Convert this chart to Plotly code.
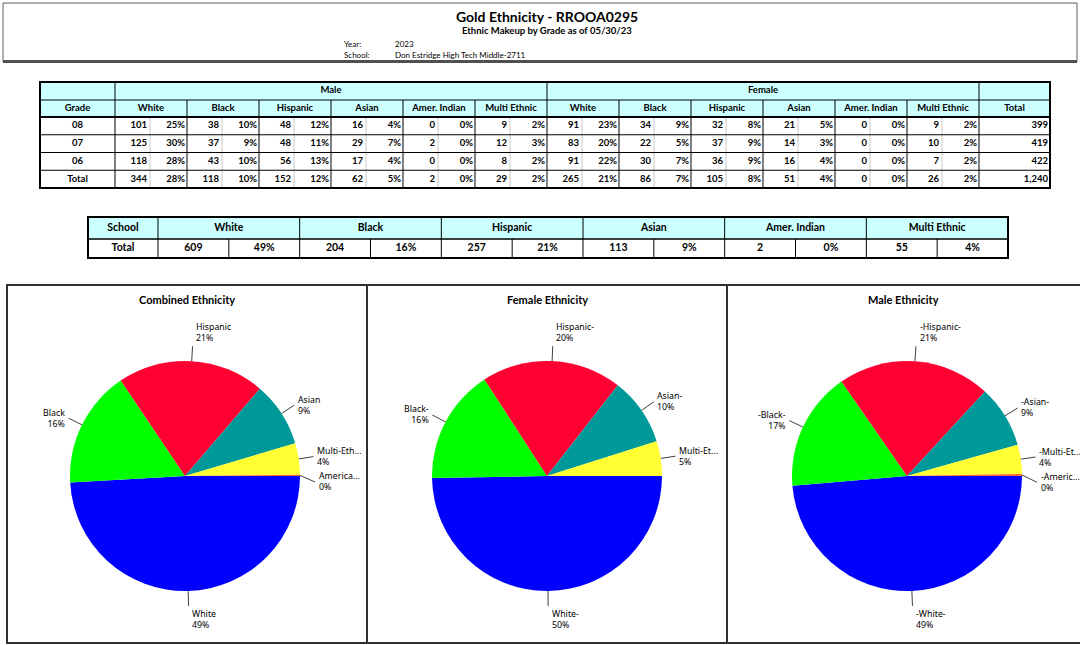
import math
import plotly.graph_objects as go

W, H = 1080, 645

# ---------------- data ----------------
grades = ["08", "07", "06", "Total"]
ethnicities = ["White", "Black", "Hispanic", "Asian", "Amer. Indian", "Multi Ethnic"]
genders = ["Male", "Female"]

male_counts = [[101, 38, 48, 16, 0, 9],
               [125, 37, 48, 29, 2, 12],
               [118, 43, 56, 17, 0, 8],
               [344, 118, 152, 62, 2, 29]]
male_pcts = [[25, 10, 12, 4, 0, 2],
             [30, 9, 11, 7, 0, 3],
             [28, 10, 13, 4, 0, 2],
             [28, 10, 12, 5, 0, 2]]
female_counts = [[91, 34, 32, 21, 0, 9],
                 [83, 22, 37, 14, 0, 10],
                 [91, 30, 36, 16, 0, 7],
                 [265, 86, 105, 51, 0, 26]]
female_pcts = [[23, 9, 8, 5, 0, 2],
               [20, 5, 9, 3, 0, 2],
               [22, 7, 9, 4, 0, 2],
               [21, 7, 8, 4, 0, 2]]
grade_totals = ["399", "419", "422", "1,240"]

school_counts = [609, 204, 257, 113, 2, 55]
school_pcts = [49, 16, 21, 9, 0, 4]

# pie slice order (clockwise from 3 o'clock): White, Black, Hispanic, Asian, Multi, Amer. Indian
pie_order = [0, 1, 2, 3, 5, 4]
pie_colors = ["#0000FF", "#00FF00", "#FF0033", "#009999", "#FFFF33", "#FF6633"]
combined_labels = ["White", "Black", "Hispanic", "Asian", "Multi-Eth...", "America..."]
female_labels = ["White-", "Black-", "Hispanic-", "Asian-", "Multi-Et...", "Americ..."]
male_labels = ["-White-", "-Black-", "-Hispanic-", "-Asian-", "-Multi-Et...", "-Americ..."]
pie_titles = ["Combined Ethnicity", "Female Ethnicity", "Male Ethnicity"]

title_text = "Gold Ethnicity - RROOA0295"
subtitle_text = "Ethnic Makeup by Grade as of 05/30/23"
year_text = "2023"
school_text = "Don Estridge High Tech Middle-2711"

# ---------------- helpers ----------------
FONT = "Lato"
CYAN = "#CCFFFF"
PX, PY = "x4", "y4"      # page axes: 1 unit = 1 pixel


def b(s):
    return "<b>%s</b>" % s


fig = go.Figure()
shapes = []


def rect(x0, y0, x1, y1, fill=None, color="black", width=0, layer="above"):
    d = dict(type="rect", xref=PX, yref=PY, x0=x0, x1=x1, y0=y0, y1=y1, layer=layer,
             line=dict(color=color, width=width))
    if fill:
        d["fillcolor"] = fill
    shapes.append(d)


def line(x0, y0, x1, y1, color="black", width=1):
    shapes.append(dict(type="line", xref=PX, yref=PY, x0=x0, x1=x1, y0=y0, y1=y1,
                       layer="above", line=dict(color=color, width=width)))


def edges_from(x0, widths):
    e = [x0]
    for w in widths:
        e.append(e[-1] + w)
    return e


texts = {"center": ([], [], []), "right": ([], [], []), "center2": ([], [], [])}


def put(kind, x, y, t):
    xs, ys, ts = texts[kind]
    xs.append(x)
    ys.append(y)
    ts.append(t)


# ---------------- table 1 ----------------
T1X0 = 40
t1_w = [75] + [35, 37] * 12 + [71]
e1 = edges_from(T1X0, t1_w)
T1X1 = e1[-1]
ROW_BAN, ROW_HDR, ROW_DAT = 82, 100, 117
DATA_H = 17.75
T1Y1 = ROW_DAT + DATA_H * len(grades)

rect(T1X0, ROW_BAN, T1X1, ROW_DAT, fill=CYAN, layer="below")
# banner texts
for gi, gname in enumerate(genders):
    gx0, gx1 = e1[1 + 12 * gi], e1[13 + 12 * gi]
    put("center", (gx0 + gx1) / 2, (ROW_BAN + ROW_HDR) / 2, b(gname))
# header texts
put("center", (e1[0] + e1[1]) / 2, (ROW_HDR + ROW_DAT) / 2, b("Grade"))
put("center", (e1[-2] + e1[-1]) / 2, (ROW_HDR + ROW_DAT) / 2, b("Total"))
for g in range(12):
    gx0, gx1 = e1[1 + 2 * g], e1[3 + 2 * g]
    put("center", (gx0 + gx1) / 2, (ROW_HDR + ROW_DAT) / 2, b(ethnicities[g % 6]))
# data
for r, grade in enumerate(grades):
    yc = ROW_DAT + DATA_H * (r + 0.5)
    put("center", (e1[0] + e1[1]) / 2, yc, b(grade))
    for gi, (counts, pcts) in enumerate(((male_counts, male_pcts), (female_counts, female_pcts))):
        for e in range(6):
            g = gi * 6 + e
            put("right", e1[2 + 2 * g] - 3, yc, b(counts[r][e]))
            put("right", e1[3 + 2 * g] - 2, yc, b("%d%%" % pcts[r][e]))
    put("right", e1[-1] - 2, yc, b(grade_totals[r]))
# grid
for g in range(12):
    line(e1[2 + 2 * g], ROW_DAT, e1[2 + 2 * g], T1Y1, color="#C8C8C8", width=1)
for g in range(1, 12):
    if g != 6:
        line(e1[1 + 2 * g], ROW_HDR, e1[1 + 2 * g], T1Y1)
for xe in (e1[1], e1[13], e1[25]):
    line(xe, ROW_BAN, xe, T1Y1)
line(T1X0, ROW_HDR, T1X1, ROW_HDR)
for r in range(1, len(grades)):
    line(T1X0, ROW_DAT + DATA_H * r, T1X1, ROW_DAT + DATA_H * r)
line(T1X0, ROW_DAT, T1X1, ROW_DAT, width=2)
rect(T1X0, ROW_BAN, T1X1, T1Y1, width=2)

# ---------------- table 2 ----------------
T2X0, T2X1 = 88, 1008
school_w = 70
sub2 = (T2X1 - T2X0 - school_w) / 12.0
e2 = edges_from(T2X0, [school_w] + [sub2] * 12)
T2_HDR, T2_DAT, T2_END = 217, 239, 258
rect(T2X0, T2_HDR, T2X1, T2_DAT, fill=CYAN, layer="below")
put("center2", (e2[0] + e2[1]) / 2, (T2_HDR + T2_DAT) / 2, b("School"))
put("center2", (e2[0] + e2[1]) / 2, (T2_DAT + T2_END) / 2, b("Total"))
for e in range(6):
    put("center2", (e2[1 + 2 * e] + e2[3 + 2 * e]) / 2, (T2_HDR + T2_DAT) / 2, b(ethnicities[e]))
    put("center2", (e2[1 + 2 * e] + e2[2 + 2 * e]) / 2, (T2_DAT + T2_END) / 2, b(school_counts[e]))
    put("center2", (e2[2 + 2 * e] + e2[3 + 2 * e]) / 2, (T2_DAT + T2_END) / 2, b("%d%%" % school_pcts[e]))
    line(e2[2 + 2 * e], T2_DAT, e2[2 + 2 * e], T2_END)
    line(e2[1 + 2 * e], T2_HDR, e2[1 + 2 * e], T2_END)
line(T2X0, T2_DAT, T2X1, T2_DAT, width=1.5)
rect(T2X0, T2_HDR, T2X1, T2_END, width=2)

for kind, pos, sz in (("center", "middle center", 9.5), ("right", "middle left", 9.5),
                      ("center2", "middle center", 10.5)):
    xs, ys, ts = texts[kind]
    fig.add_trace(go.Scatter(x=xs, y=ys, text=ts, mode="text", textposition=pos,
                             textfont=dict(family=FONT, size=sz, color="black"),
                             xaxis=PX, yaxis=PY, hoverinfo="skip", showlegend=False,
                             cliponaxis=False))

# ---------------- pies ----------------
panels = [(7, 367), (367, 727), (727, 1080)]
centers = [185, 547, 907]
CY, R = 476, 115
female_tot = female_counts[3]
male_tot = male_counts[3]
pie_sets = [
    ([school_counts[i] for i in pie_order], combined_labels),
    ([female_tot[i] for i in pie_order], female_labels),
    ([male_tot[i] for i in pie_order], male_labels),
]


def fx(x):
    return x / W


def fy(y):
    return 1 - y / H


annotations = []
for k, ((vals, labs), (p0, p1), cx) in enumerate(zip(pie_sets, panels, centers)):
    fig.add_trace(go.Pie(
        values=vals, labels=labs, sort=False, direction="clockwise", rotation=90,
        marker=dict(colors=pie_colors, line=dict(width=0)),
        textinfo="none", hoverinfo="label+percent",
        domain=dict(x=[fx(cx - R), fx(cx + R)], y=[fy(CY + R), fy(CY - R)]),
        showlegend=False,
    ))
    # overlay axes where 1 unit = pie radius
    ax_id = "" if k == 0 else str(k + 1)
    ax0, ax1 = p0 + 2, p1 - 2
    ay0, ay1 = 305, 641
    fig.update_layout(**{
        "xaxis" + ax_id: dict(domain=[fx(ax0), fx(ax1)], range=[(ax0 - cx) / R, (ax1 - cx) / R],
                              visible=False, fixedrange=True, anchor="y" + ax_id),
        "yaxis" + ax_id: dict(domain=[fy(ay1), fy(ay0)], range=[(CY - ay1) / R, (CY - ay0) / R],
                              visible=False, fixedrange=True, anchor="x" + ax_id),
    })
    total = float(sum(vals))
    cum = 0.0
    items = []
    for v, lab in zip(vals, labs):
        if v > 0:
            th = -2 * math.pi * (cum + v / 2.0) / total
            c, s = math.cos(th), math.sin(th)
            items.append(dict(c=c, s=s, lab=lab, pct=round(100 * v / total),
                              ex=1.13 * c, ey=1.13 * s))
        cum += v
    # simple overlap avoidance for side labels
    for side in (1, -1):
        grp = sorted([it for it in items if abs(it["s"]) <= 0.75 and (it["c"] >= 0) == (side == 1)],
                     key=lambda it: -it["ey"])
        for a, bb in zip(grp, grp[1:]):
            if a["ey"] - bb["ey"] < 0.22:
                bb["ey"] = a["ey"] - 0.22
    lx, ly = [], []
    for it in items:
        lx += [it["c"], it["ex"], None]
        ly += [it["s"], it["ey"], None]
        xa = "left" if it["c"] >= 0 else "right"
        if it["s"] > 0.75:
            ya = "bottom"
        elif it["s"] < -0.75:
            ya = "top"
        else:
            ya = "middle"
        annotations.append(dict(
            x=it["ex"] + (0.015 if xa == "left" else -0.015), y=it["ey"],
            xref="x" + ax_id, yref="y" + ax_id, xanchor=xa, yanchor=ya, align=xa,
            text="%s<br>%d%%" % (it["lab"], it["pct"]), showarrow=False,
            font=dict(family="Noto Sans", size=8.8, color="black")))
    fig.add_trace(go.Scatter(x=lx, y=ly, mode="lines", line=dict(color="#404040", width=1),
                             xaxis="x" + ax_id, yaxis="y" + ax_id, hoverinfo="skip",
                             showlegend=False, cliponaxis=False))
    annotations.append(dict(x=(p0 + p1) / 2, y=299, xref=PX, yref=PY,
                            text=b(pie_titles[k]), showarrow=False, xanchor="center",
                            yanchor="middle", font=dict(family=FONT, size=11, color="black")))

# ---------------- header texts ----------------
hdr = [
    (547, 16, b(title_text), 14, "center"),
    (547, 30, b(subtitle_text), 9.5, "center"),
    (342, 44, "Year:", 8, "left"),
    (393, 44, year_text, 8, "left"),
    (342, 55, "School:", 8, "left"),
    (393, 55, school_text, 8, "left"),
]
for x, y, t, sz, xa in hdr:
    annotations.append(dict(x=x, y=y, xref=PX, yref=PY, text=t,
                            showarrow=False, xanchor=xa, yanchor="middle",
                            font=dict(family=FONT, size=sz, color="black")))

# ---------------- frames ----------------
rect(3, 3, 1077, 62, color="#606060", width=1)
line(3, 61.5, 1077, 61.5, color="#505050", width=3)
rect(7, 285, 1082, 643, color="#303030", width=2)
line(367, 285, 367, 643, color="#303030", width=2)
line(727, 285, 727, 643, color="#303030", width=2)

fig.update_layout(
    width=W, height=H, margin=dict(l=0, r=0, t=0, b=0),
    paper_bgcolor="white", plot_bgcolor="rgba(0,0,0,0)", showlegend=False,
    annotations=annotations, shapes=shapes,
    xaxis4=dict(domain=[0, 1], range=[0, W], visible=False, fixedrange=True, anchor="y4"),
    yaxis4=dict(domain=[0, 1], range=[H, 0], visible=False, fixedrange=True, anchor="x4"),
)

fig.write_html("out.html", config={"displayModeBar": False},
               post_script="document.body.style.margin='0';document.body.style.overflow='hidden';")
